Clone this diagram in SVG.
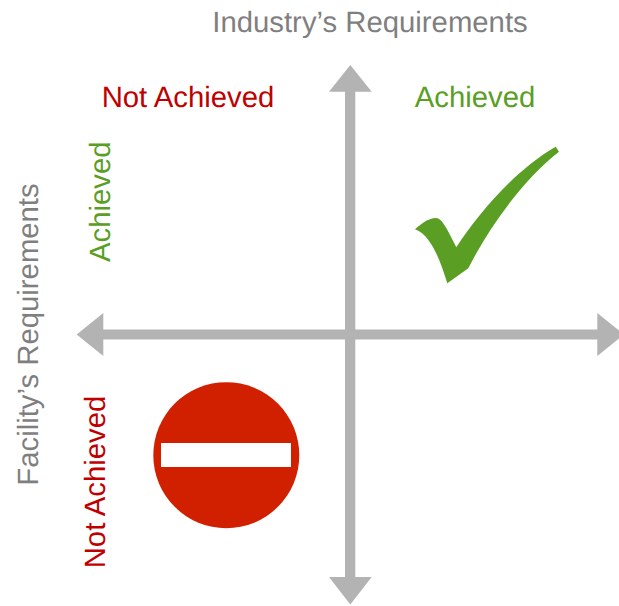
<svg xmlns="http://www.w3.org/2000/svg" width="619" height="606" viewBox="0 0 619 606">
<style>
text{font-family:"Liberation Sans",Arial,sans-serif;font-size:29.3px;text-rendering:geometricPrecision}
.axis{fill:#b3b3b3}
.grey{fill:#7f7f7f}
.red{fill:#c00000}
.green{fill:#5a9e23}
</style>
<rect width="619" height="606" fill="#ffffff"/>
<g id="connectors">
<path id="axis-h" class="axis" d="M76.7 334.5L103.3 313V329.5H597.3V313L624 334.5L597.3 356V339.5H103.3V356Z"/>
<path id="axis-v" class="axis" d="M350.3 65L371.7 91.7H355.3V577H371.7L350.3 604.5L329 577H345V91.7H329Z"/>
</g>
<g id="title-top"><text class="grey" x="370" y="31.5" text-anchor="middle">Industry’s Requirements</text></g>
<g id="title-left"><text class="grey" transform="translate(37.5 334.5) rotate(-90)" text-anchor="middle">Facility’s Requirements</text></g>
<g id="label-top-not"><text class="red" x="188" y="106.7" text-anchor="middle">Not Achieved</text></g>
<g id="label-top-ach"><text class="green" x="475" y="106.7" text-anchor="middle">Achieved</text></g>
<g id="label-left-ach"><text class="green" transform="translate(110.3 201.7) rotate(-90)" text-anchor="middle">Achieved</text></g>
<g id="label-left-not"><text class="red" transform="translate(105 482) rotate(-90)" text-anchor="middle">Not Achieved</text></g>
<g id="check"><path class="green" d="M415 229.3C421 224 427 219 435 218C439 218 441 220 443 223C448 230 452 239 456.3 247.3C478 214 515 170 555.7 146.7L559 151.7C525 178 490 225 468.3 268.3L447.3 283.3C442 266 436 250 429 241C425 235 420 231 415 229.3Z"/></g>
<g id="no-entry"><circle cx="226.3" cy="455.2" r="73" fill="#d12000"/><rect x="161" y="443" width="130" height="24" fill="#ffffff"/></g>
</svg>
